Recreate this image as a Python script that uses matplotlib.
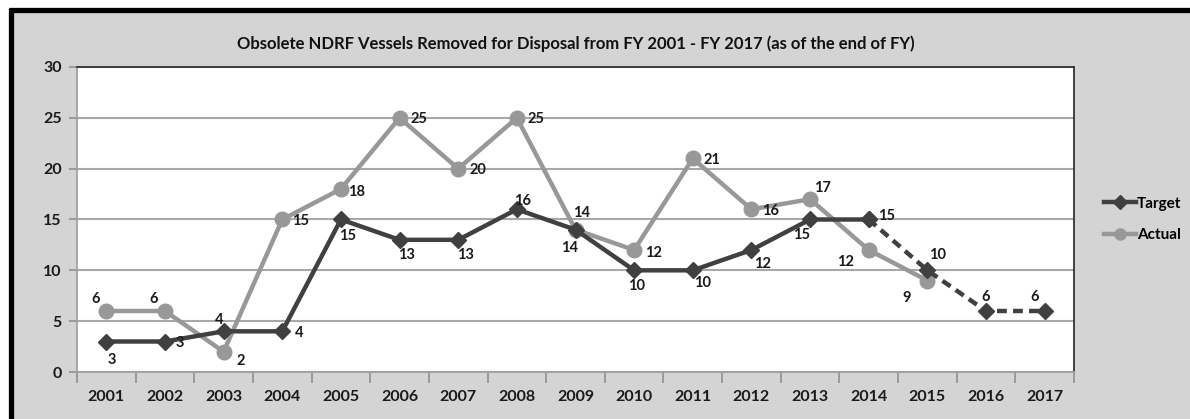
import matplotlib.pyplot as plt
from matplotlib.patches import Rectangle
from matplotlib.lines import Line2D

# fiscal years and vessel counts
years = [str(y) for y in range(2001, 2018)]
target = [3, 3, 4, 4, 15, 13, 13, 16, 14, 10, 10, 12, 15, 15, 10, 6, 6]
actual = [6, 6, 2, 15, 18, 25, 20, 25, 14, 12, 21, 16, 17, 12, 9]
last_solid = 13  # target is a projection after FY 2014

# label offsets in points (dx, dy)
target_off = [(4, -13), (11, -1), (-3, 8), (12, -1), (5, -12), (5, -11), (5, -11),
              (4, 6), (-4, -13), (2, -11), (7, -9), (8, -10), (-6, -11),
              (13, 2.5), (7, 11), (0, 10), (-7, 10)]
actual_off = [(-8, 9), (-8, 9), (12, -7), (13, -1), (11, -2), (14, -1), (14, -1),
              (14, -1), (4, 12), (14, -2), (14, -1), (14, -1), (9, 8),
              (-17, -9), (-15, -12.5)]

dark = '#404040'
light = '#989898'
font = ['Liberation Sans Narrow', 'Lato', 'DejaVu Sans']

W, H = 1190, 419
fig = plt.figure(figsize=(W / 100, H / 100), dpi=100, facecolor='white')

# grey chart area with a heavy black frame on top and left
fig.add_artist(Rectangle((13 / W, 0), 1, 1 - 13 / H, transform=fig.transFigure,
                         facecolor='#d4d4d4', edgecolor='none', zorder=-10))
fig.add_artist(Line2D([8.5 / W, 1], [1 - 10.5 / H] * 2, color='black', lw=3.8,
                      solid_capstyle='butt', zorder=-5))
fig.add_artist(Line2D([10.5 / W] * 2, [0, 1 - 8.5 / H], color='black', lw=3.8,
                      solid_capstyle='butt', zorder=-5))

ax = fig.add_axes([77 / W, (H - 372) / H, 997 / W, 305 / H])
ax.set_facecolor('white')
x = list(range(len(years)))

ax.plot(x[:last_solid + 1], target[:last_solid + 1], color=dark, lw=3.2,
        marker='D', ms=8, zorder=4)
ax.plot(x[last_solid:], target[last_solid:], color=dark, lw=3.2, ls=(0, (2.2, 1.4)),
        marker='D', ms=8, zorder=4)
ax.plot(x[:len(actual)], actual, color=light, lw=3.2, marker='o', ms=10.5, zorder=3)

for i, v in enumerate(target):
    ax.annotate(str(v), (i, v), xytext=target_off[i], textcoords='offset points',
                ha='center', va='center', fontsize=10.5, fontweight='bold',
                family=font, color='#1a1a1a', zorder=5)
for i, v in enumerate(actual):
    ax.annotate(str(v), (i, v), xytext=actual_off[i], textcoords='offset points',
                ha='center', va='center', fontsize=10.5, fontweight='bold',
                family=font, color='#1a1a1a', zorder=5)

ax.set_xlim(-0.5, len(years) - 0.5)
ax.set_ylim(0, 30)
ax.set_yticks(range(0, 31, 5))
ax.set_xticks(x)
ax.set_xticklabels(years)
ax.set_xticks([i - 0.5 for i in range(len(years) + 1)], minor=True)
ax.tick_params(axis='x', which='major', length=0, pad=13)
ax.tick_params(axis='x', which='minor', length=8, color='#909090', width=1.2)
ax.tick_params(axis='y', length=6, color='#909090', width=1.2, pad=5)
for lab in ax.get_xticklabels() + ax.get_yticklabels():
    lab.set_family(font)
    lab.set_fontweight('bold')
    lab.set_fontsize(11.5)
    lab.set_color('#1a1a1a')

ax.grid(axis='y', color='#a8a8a8', lw=1.5)
ax.set_axisbelow(True)
ax.spines['left'].set_color('#a0a0a0')
ax.spines['bottom'].set_color('#a0a0a0')
ax.spines['top'].set_color('#333333')
ax.spines['right'].set_color('#333333')
for s in ax.spines.values():
    s.set_linewidth(1.3)

ax.set_title('Obsolete NDRF Vessels Removed for Disposal from FY 2001 - FY 2017 (as of the end of FY)',
             family=font, fontweight='bold', fontsize=12, color='#111111', pad=13)

handles = [Line2D([], [], color=dark, lw=3.2, marker='D', ms=7),
           Line2D([], [], color=light, lw=3.2, marker='o', ms=8)]
fig.legend(handles, ['Target', 'Actual'], loc='upper left',
           bbox_to_anchor=(1090 / W, 1 - 183 / H), frameon=False,
           handlelength=2.1, handletextpad=0.05, labelspacing=1.15,
           prop={'family': font, 'weight': 'bold', 'size': 11})

fig.savefig('out.png', dpi=100, facecolor='white')
